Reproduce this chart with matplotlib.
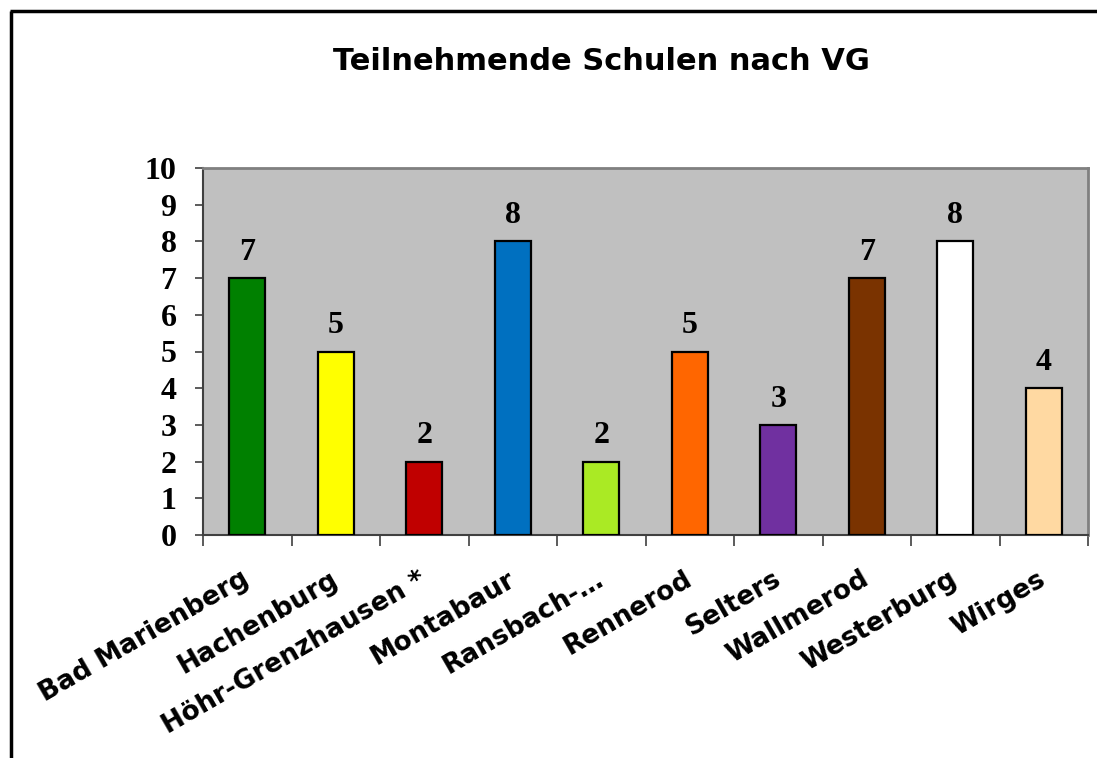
import matplotlib
matplotlib.use("Agg")
import matplotlib.pyplot as plt
from matplotlib.lines import Line2D
import numpy as np

categories = ["Bad Marienberg", "Hachenburg", "Höhr-Grenzhausen *", "Montabaur",
              "Ransbach-…", "Rennerod", "Selters", "Wallmerod", "Westerburg", "Wirges"]
values = [7, 5, 2, 8, 2, 5, 3, 7, 8, 4]
colors = ["#008000", "#FFFF00", "#C00000", "#0070C0", "#AAEA24",
          "#FF6600", "#7030A0", "#7A3300", "#FFFFFF", "#FFD9A2"]
yticks = list(range(0, 11))
title = "Teilnehmende Schulen nach VG"

fig = plt.figure(figsize=(10.97, 7.58), dpi=100)
fig.patch.set_facecolor("white")

# outer frame (left and top visible)
fig.add_artist(Line2D([11/1097, 11/1097], [0, 1 - 10.5/758], transform=fig.transFigure,
                      color="black", lw=2.5, solid_capstyle="butt"))
fig.add_artist(Line2D([11/1097 - 0.001, 1], [1 - 10.5/758, 1 - 10.5/758], transform=fig.transFigure,
                      color="black", lw=2.5, solid_capstyle="butt"))

ax = fig.add_axes([203/1097, 1 - 535/758, (1088 - 203)/1097, (535 - 168)/758])
ax.set_facecolor("#C0C0C0")

x = np.arange(len(categories))
ax.bar(x, values, width=0.41, color=colors, edgecolor="black", linewidth=1.6, zorder=3)

for xi, v in zip(x, values):
    ax.annotate(str(v), (xi, v), xytext=(0, 8), textcoords="offset points",
                ha="center", va="bottom", fontsize=23, fontweight="bold",
                family="Liberation Serif", zorder=4)

ax.set_xlim(-0.5, len(categories) - 0.5)
ax.set_ylim(0, 10)
ax.set_yticks(yticks)
ax.set_yticklabels([str(t) for t in yticks], fontsize=23, fontweight="bold",
                   family="Liberation Serif")
ax.tick_params(axis="y", length=6, width=1.2, color="#404040", pad=13)

ax.set_xticks(x)
ax.set_xticklabels([])
ax.set_xticks(np.arange(-0.5, len(categories)), minor=True)
ax.tick_params(axis="x", which="major", length=0)
ax.tick_params(axis="x", which="minor", length=8, width=1.2, color="#404040")

for xi, lab in zip(x, categories):
    ax.text(xi - 0.07, -0.85, lab, rotation=30, rotation_mode="anchor",
            ha="right", va="top", fontsize=19, fontweight="bold",
            family="DejaVu Sans", transform=ax.transData, clip_on=False)

for side in ["top", "right"]:
    ax.spines[side].set_color("#808080")
    ax.spines[side].set_linewidth(2)
for side in ["left", "bottom"]:
    ax.spines[side].set_color("#404040")
    ax.spines[side].set_linewidth(1.5)

fig.text(601/1097, 1 - 62/758, title, ha="center", va="center",
         fontsize=22, fontweight="bold", family="DejaVu Sans")

fig.savefig("out.png", dpi=100)
